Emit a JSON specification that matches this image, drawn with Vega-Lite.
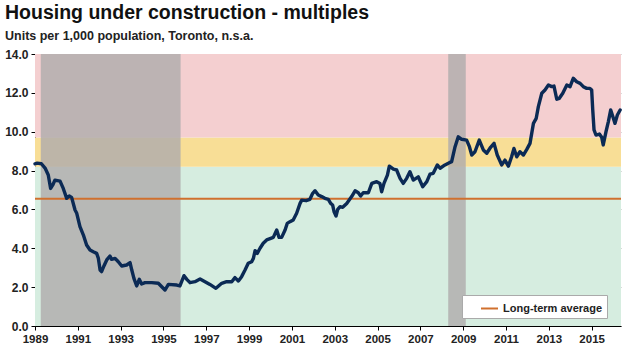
{
  "$schema": "https://vega.github.io/schema/vega-lite/v6.json",
  "width": 586,
  "height": 272,
  "autosize": {"type": "none"},
  "padding": {"left": 35, "top": 54, "right": 14, "bottom": 31},
  "background": "white",
  "title": {
    "text": "Housing under construction - multiples",
    "subtitle": "Units per 1,000 population, Toronto, n.s.a.",
    "anchor": "start",
    "frame": "group",
    "dx": -30,
    "offset": 5,
    "font": "Liberation Sans",
    "fontSize": 19.5,
    "fontWeight": "bold",
    "color": "#111111",
    "subtitleFont": "Liberation Sans",
    "subtitleFontSize": 12.5,
    "subtitleFontWeight": "bold",
    "subtitleColor": "#222222",
    "subtitlePadding": 6
  },
  "config": {
    "view": {"stroke": null},
    "axis": {
      "labelFont": "Liberation Sans",
      "labelFontWeight": "bold",
      "labelColor": "#222222",
      "domainColor": "#000000",
      "tickColor": "#000000",
      "tickSize": 4,
      "labelOverlap": false,
      "labelFlush": false,
      "title": null
    },
    "axisY": {
      "format": ".1f",
      "labelFontSize": 12,
      "labelPadding": 3,
      "labelOverlap": false,
      "labelBound": false,
      "grid": true,
      "gridColor": "#7a7a7a",
      "gridOpacity": 0.55,
      "zindex": 1
    },
    "axisX": {
      "labelFontSize": 11.5,
      "labelPadding": 3,
      "labelDx": 2,
      "labelOverlap": false,
      "grid": false
    }
  },
  "datasets": {
    "zones": [
      {"zone": "low", "lo": 0, "hi": 8.2},
      {"zone": "mid", "lo": 8.2, "hi": 9.7},
      {"zone": "high", "lo": 9.7, "hi": 14}
    ],
    "shade": [
      {"start": 1989.27, "end": 1995.8},
      {"start": 2008.3, "end": 2009.12}
    ],
    "avg": [
      {"label": "Long-term average", "avg": 6.55}
    ],
    "series": [
      {"t": 1989.0, "v": 8.35}, {"t": 1989.1, "v": 8.38}, {"t": 1989.3, "v": 8.35}, {"t": 1989.47, "v": 8.13},
      {"t": 1989.62, "v": 7.77}, {"t": 1989.73, "v": 7.08}, {"t": 1989.83, "v": 7.26}, {"t": 1989.93, "v": 7.51},
      {"t": 1990.17, "v": 7.46}, {"t": 1990.32, "v": 7.08}, {"t": 1990.48, "v": 6.57}, {"t": 1990.6, "v": 6.69},
      {"t": 1990.71, "v": 6.62}, {"t": 1990.87, "v": 5.97}, {"t": 1990.95, "v": 5.8}, {"t": 1991.1, "v": 5.11},
      {"t": 1991.26, "v": 4.68}, {"t": 1991.41, "v": 4.17}, {"t": 1991.57, "v": 3.91}, {"t": 1991.72, "v": 3.82},
      {"t": 1991.88, "v": 3.74}, {"t": 1991.96, "v": 3.48}, {"t": 1992.04, "v": 2.88}, {"t": 1992.11, "v": 2.8},
      {"t": 1992.22, "v": 3.09}, {"t": 1992.35, "v": 3.4}, {"t": 1992.5, "v": 3.6}, {"t": 1992.58, "v": 3.43},
      {"t": 1992.74, "v": 3.48}, {"t": 1992.89, "v": 3.31}, {"t": 1993.05, "v": 3.09}, {"t": 1993.28, "v": 3.14},
      {"t": 1993.44, "v": 3.26}, {"t": 1993.52, "v": 2.88}, {"t": 1993.62, "v": 2.45}, {"t": 1993.75, "v": 2.06},
      {"t": 1993.87, "v": 2.4}, {"t": 1993.98, "v": 2.16}, {"t": 1994.14, "v": 2.23}, {"t": 1994.45, "v": 2.23},
      {"t": 1994.76, "v": 2.2}, {"t": 1994.92, "v": 2.02}, {"t": 1995.07, "v": 1.85}, {"t": 1995.23, "v": 2.14},
      {"t": 1995.62, "v": 2.11}, {"t": 1995.77, "v": 2.06}, {"t": 1995.96, "v": 2.59}, {"t": 1996.09, "v": 2.4},
      {"t": 1996.24, "v": 2.23}, {"t": 1996.47, "v": 2.28}, {"t": 1996.71, "v": 2.42}, {"t": 1996.94, "v": 2.28},
      {"t": 1997.17, "v": 2.14}, {"t": 1997.45, "v": 1.94}, {"t": 1997.72, "v": 2.2}, {"t": 1997.95, "v": 2.28},
      {"t": 1998.19, "v": 2.28}, {"t": 1998.34, "v": 2.49}, {"t": 1998.5, "v": 2.32}, {"t": 1998.65, "v": 2.54},
      {"t": 1998.81, "v": 2.88}, {"t": 1998.96, "v": 3.23}, {"t": 1999.12, "v": 3.31}, {"t": 1999.2, "v": 3.48},
      {"t": 1999.28, "v": 3.88}, {"t": 1999.38, "v": 3.74}, {"t": 1999.51, "v": 4.0}, {"t": 1999.66, "v": 4.26},
      {"t": 1999.82, "v": 4.43}, {"t": 2000.01, "v": 4.51}, {"t": 2000.13, "v": 4.56}, {"t": 2000.29, "v": 4.94},
      {"t": 2000.4, "v": 4.56}, {"t": 2000.52, "v": 4.56}, {"t": 2000.68, "v": 4.94}, {"t": 2000.78, "v": 5.28},
      {"t": 2000.91, "v": 5.37}, {"t": 2001.06, "v": 5.46}, {"t": 2001.22, "v": 5.8}, {"t": 2001.38, "v": 6.31},
      {"t": 2001.46, "v": 6.48}, {"t": 2001.66, "v": 6.45}, {"t": 2001.84, "v": 6.52}, {"t": 2001.97, "v": 6.83},
      {"t": 2002.08, "v": 6.96}, {"t": 2002.23, "v": 6.74}, {"t": 2002.39, "v": 6.66}, {"t": 2002.54, "v": 6.57},
      {"t": 2002.7, "v": 6.52}, {"t": 2002.81, "v": 6.31}, {"t": 2002.9, "v": 6.23}, {"t": 2002.97, "v": 5.88},
      {"t": 2003.06, "v": 5.66}, {"t": 2003.14, "v": 6.0}, {"t": 2003.25, "v": 6.14}, {"t": 2003.37, "v": 6.11},
      {"t": 2003.56, "v": 6.31}, {"t": 2003.79, "v": 6.66}, {"t": 2003.95, "v": 6.96}, {"t": 2004.1, "v": 6.86},
      {"t": 2004.21, "v": 6.69}, {"t": 2004.33, "v": 6.86}, {"t": 2004.57, "v": 6.86}, {"t": 2004.73, "v": 7.34},
      {"t": 2004.96, "v": 7.43}, {"t": 2005.11, "v": 7.34}, {"t": 2005.19, "v": 6.91}, {"t": 2005.3, "v": 7.34},
      {"t": 2005.46, "v": 7.77}, {"t": 2005.55, "v": 8.23}, {"t": 2005.74, "v": 8.07}, {"t": 2005.89, "v": 8.03},
      {"t": 2006.05, "v": 7.6}, {"t": 2006.2, "v": 7.34}, {"t": 2006.36, "v": 7.6}, {"t": 2006.51, "v": 7.94},
      {"t": 2006.67, "v": 7.51}, {"t": 2006.9, "v": 7.68}, {"t": 2007.11, "v": 7.17}, {"t": 2007.3, "v": 7.43},
      {"t": 2007.45, "v": 7.82}, {"t": 2007.6, "v": 7.86}, {"t": 2007.79, "v": 8.29}, {"t": 2007.92, "v": 8.12},
      {"t": 2008.15, "v": 8.29}, {"t": 2008.35, "v": 8.4}, {"t": 2008.46, "v": 8.46}, {"t": 2008.62, "v": 9.23},
      {"t": 2008.77, "v": 9.74}, {"t": 2008.93, "v": 9.61}, {"t": 2009.16, "v": 9.57}, {"t": 2009.29, "v": 9.23},
      {"t": 2009.4, "v": 8.8}, {"t": 2009.55, "v": 8.97}, {"t": 2009.75, "v": 9.57}, {"t": 2009.94, "v": 9.06},
      {"t": 2010.1, "v": 8.89}, {"t": 2010.28, "v": 9.2}, {"t": 2010.44, "v": 9.4}, {"t": 2010.59, "v": 8.8},
      {"t": 2010.8, "v": 8.29}, {"t": 2010.95, "v": 8.54}, {"t": 2011.11, "v": 8.23}, {"t": 2011.26, "v": 8.71},
      {"t": 2011.37, "v": 9.14}, {"t": 2011.5, "v": 8.71}, {"t": 2011.65, "v": 8.97}, {"t": 2011.81, "v": 8.8},
      {"t": 2011.97, "v": 9.09}, {"t": 2012.12, "v": 9.4}, {"t": 2012.28, "v": 10.43}, {"t": 2012.41, "v": 10.69},
      {"t": 2012.51, "v": 11.29}, {"t": 2012.67, "v": 11.98}, {"t": 2012.82, "v": 12.15}, {"t": 2012.98, "v": 12.4},
      {"t": 2013.13, "v": 12.32}, {"t": 2013.24, "v": 12.35}, {"t": 2013.37, "v": 11.67}, {"t": 2013.49, "v": 11.72},
      {"t": 2013.65, "v": 11.98}, {"t": 2013.84, "v": 12.4}, {"t": 2013.99, "v": 12.32}, {"t": 2014.14, "v": 12.75},
      {"t": 2014.3, "v": 12.57}, {"t": 2014.46, "v": 12.49}, {"t": 2014.61, "v": 12.32}, {"t": 2014.77, "v": 12.23},
      {"t": 2014.92, "v": 12.23}, {"t": 2015.0, "v": 12.15}, {"t": 2015.05, "v": 11.12}, {"t": 2015.11, "v": 10.09},
      {"t": 2015.2, "v": 9.83}, {"t": 2015.36, "v": 9.88}, {"t": 2015.47, "v": 9.71}, {"t": 2015.54, "v": 9.32},
      {"t": 2015.67, "v": 10.0}, {"t": 2015.78, "v": 10.52}, {"t": 2015.89, "v": 11.12}, {"t": 2015.98, "v": 10.81},
      {"t": 2016.09, "v": 10.43}, {"t": 2016.2, "v": 10.86}, {"t": 2016.33, "v": 11.12}
    ]
  },
  "layer": [
    {
      "data": {"name": "zones"},
      "mark": {"type": "rect"},
      "encoding": {
        "y": {
          "field": "lo", "type": "quantitative",
          "scale": {"domain": [0, 14], "nice": false},
          "title": null
        },
        "y2": {"field": "hi"},
        "fill": {
          "field": "zone", "type": "nominal",
          "scale": {"domain": ["low", "mid", "high"], "range": ["#d6ede0", "#f8de96", "#f4cfd0"]},
          "legend": null
        }
      }
    },
    {
      "data": {"name": "shade"},
      "mark": {"type": "rect", "color": "#b0acac", "opacity": 0.82},
      "encoding": {
        "x": {
          "field": "start", "type": "quantitative",
          "scale": {"domain": [1989, 2016.37], "nice": false, "zero": false},
          "axis": {"values": [1989, 1990, 1991, 1992, 1993, 1994, 1995, 1996, 1997, 1998, 1999, 2000, 2001, 2002, 2003, 2004, 2005, 2006, 2007, 2008, 2009, 2010, 2011, 2012, 2013, 2014, 2015, 2016], "format": "d", "labelExpr": "datum.value % 2 == 1 ? datum.label : ''", "labelFlush": false, "title": null},
          "title": null
        },
        "x2": {"field": "end"}
      }
    },
    {
      "data": {"name": "avg"},
      "mark": {"type": "rule", "strokeWidth": 2},
      "encoding": {
        "y": {"field": "avg", "type": "quantitative", "title": null},
        "stroke": {
          "field": "label", "type": "nominal",
          "scale": {"range": ["#d0702e"]},
          "legend": {
            "orient": "none", "legendX": 427, "legendY": 241, "title": null,
            "symbolType": "stroke", "symbolSize": 289, "symbolStrokeWidth": 2,
            "labelFont": "Liberation Sans", "labelFontSize": 11, "labelFontWeight": "bold", "labelColor": "#222222",
            "fillColor": "white", "strokeColor": "#aaaaaa", "padding": 4, "symbolOffset": 14
          }
        }
      }
    },
    {
      "data": {"name": "series"},
      "mark": {"type": "line", "color": "#0b2a55", "strokeWidth": 3.4, "strokeJoin": "round", "strokeCap": "round"},
      "encoding": {
        "x": {"field": "t", "type": "quantitative", "title": null},
        "y": {"field": "v", "type": "quantitative", "title": null}
      }
    }
  ]
}
